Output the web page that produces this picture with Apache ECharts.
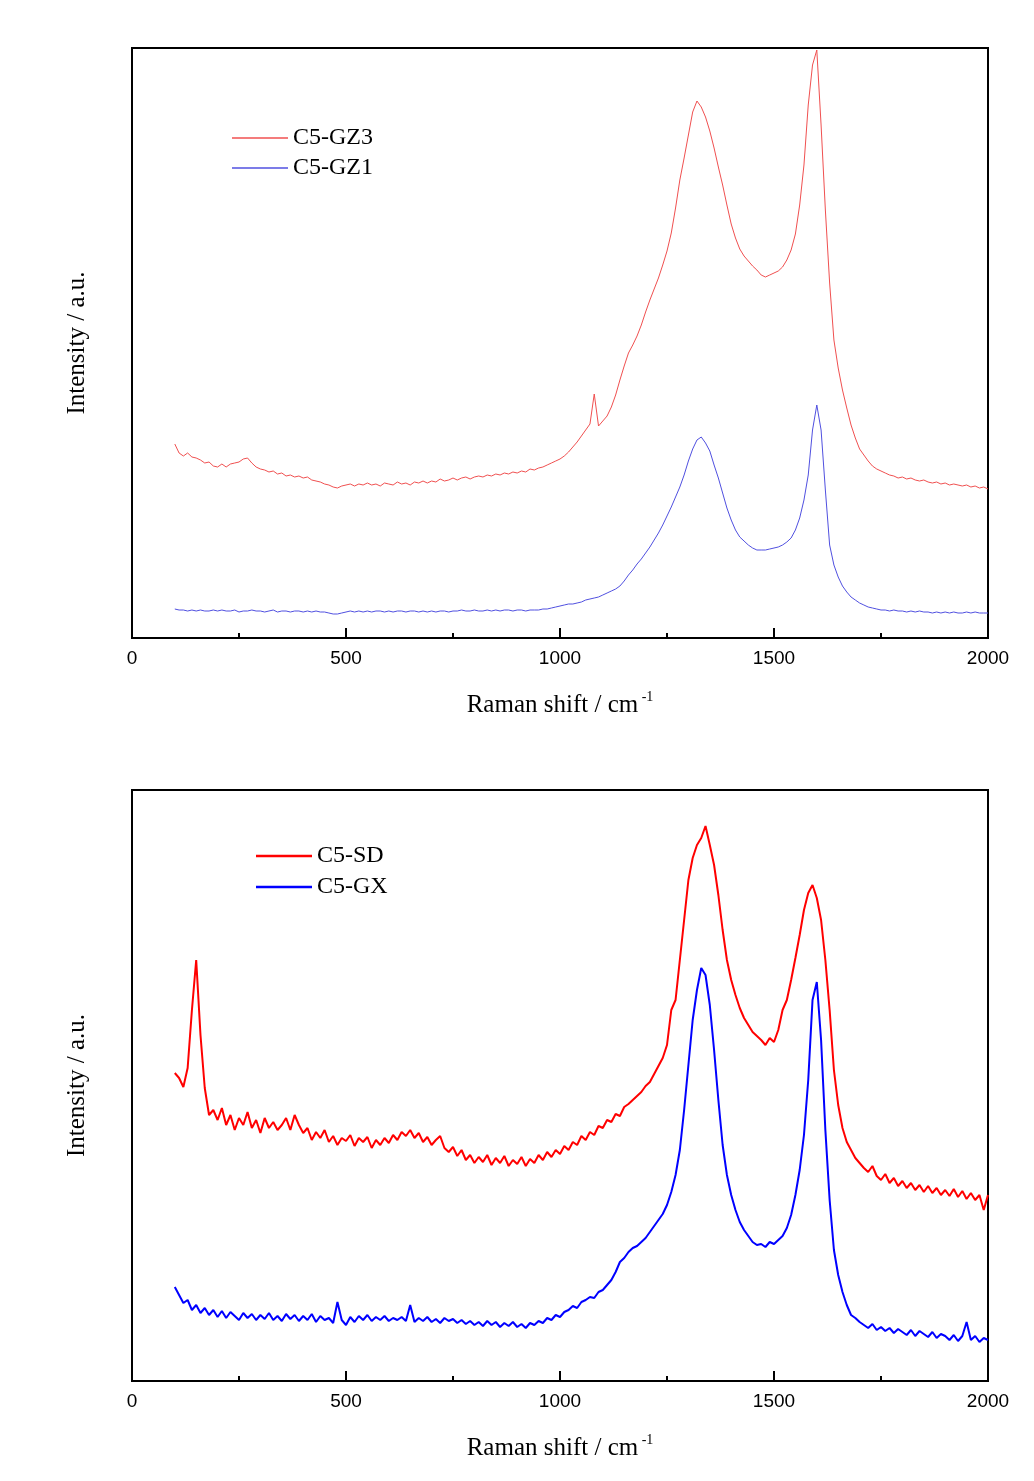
<!DOCTYPE html>
<html>
<head>
<meta charset="utf-8">
<script src="https://cdn.jsdelivr.net/npm/echarts@6/dist/echarts.min.js"></script>
<style>
html,body{margin:0;padding:0;background:#fff;}
#chart{width:1034px;height:1481px;}
</style>
</head>
<body>
<div id="chart"></div>
<script>
// Raman shift sample positions (cm^-1), 100..2000 every 10
const ramanShift = Array.from({length: 191}, (_, i) => 100 + 10 * i);

// Upper panel
const gz3 = [194,185,182,185,181,180,178,175,176,172,171,174,171,174,175,176,179,180,175,171,
169,168,166,167,164,165,162,163,161,162,160,161,158,157,156,154,153,151,150,152,
153,154,152,154,153,155,153,154,152,155,154,153,156,154,155,153,156,155,157,155,
157,156,159,157,158,160,158,160,161,159,161,162,161,163,162,164,163,165,164,166,
165,167,166,169,168,170,171,173,175,177,179,182,186,191,196,202,208,214,244,212,
217,222,231,243,258,272,285,293,302,313,326,338,349,360,373,387,405,430,458,480,
503,526,537,531,521,507,490,471,453,433,414,400,389,382,377,372,368,363,361,363,
365,367,371,378,388,404,433,473,533,573,588,513,428,355,298,270,248,230,213,200,
189,183,177,172,169,167,165,163,162,160,161,159,160,158,157,158,156,155,156,154,
155,153,154,153,152,153,151,152,150,151,149];
const gz1 = [29,28,28,27,28,27,28,27,27,28,27,28,27,27,28,26,27,27,28,27,
27,26,27,28,26,27,27,26,27,27,26,27,26,27,26,26,25,24,24,25,
26,27,26,27,26,27,26,27,27,26,27,26,27,27,26,27,27,26,27,26,
27,26,27,27,26,27,27,28,27,27,28,27,27,28,27,28,27,28,28,27,
28,28,27,28,28,28,29,29,30,31,32,33,34,34,35,36,38,39,40,41,
43,45,47,49,52,57,63,68,74,79,85,91,98,105,113,122,131,141,151,163,
177,189,198,201,195,187,173,160,145,130,118,108,101,97,93,90,88,88,88,89,
90,91,93,96,100,108,120,138,163,208,233,208,148,93,73,61,52,46,41,38,
35,33,31,30,29,28,28,27,28,27,27,26,27,26,27,26,26,25,26,25,
26,25,26,25,25,26,25,26,25,25,25];

// Lower panel
const sd = [308,303,294,313,371,421,346,293,266,271,261,273,256,266,251,263,256,269,253,261,
248,263,253,259,251,256,263,251,266,256,248,253,241,249,243,251,239,245,236,243,
240,246,235,243,239,244,233,241,236,243,238,246,241,249,245,251,243,248,239,244,
236,241,245,233,229,234,225,231,221,226,218,224,219,226,216,223,218,225,215,221,
217,224,215,222,218,226,221,229,224,231,227,235,231,239,236,245,241,249,246,255,
253,261,259,267,265,274,277,281,285,289,295,299,307,315,323,336,371,381,421,461,
501,523,536,543,555,536,516,486,451,421,401,386,373,363,356,349,345,341,336,343,
339,351,371,381,401,423,446,471,488,496,483,461,421,371,311,276,253,239,231,223,
218,213,209,215,205,201,207,198,203,195,200,193,198,191,196,189,195,188,193,186,
191,185,192,184,190,182,188,181,186,171,186];
const gx = [94,86,78,81,71,76,68,73,66,71,64,70,63,69,65,61,68,63,67,61,
66,62,68,61,65,60,67,62,66,60,65,61,67,59,65,61,63,58,79,61,
56,64,59,65,61,66,60,64,61,65,60,63,61,64,60,76,59,63,60,64,
59,62,58,63,60,62,58,61,57,60,56,59,55,60,56,59,54,58,55,59,
54,57,53,58,56,60,58,63,61,66,64,69,71,75,73,79,81,84,83,89,
91,96,101,109,119,123,129,133,135,139,143,149,155,161,167,176,189,206,231,271,
316,361,391,413,406,376,331,281,236,206,186,171,159,151,145,139,136,137,134,139,
137,141,145,153,166,186,211,246,301,381,399,341,251,181,131,106,89,76,66,63,
59,56,53,57,51,54,50,53,48,52,49,46,51,45,50,47,44,49,43,47,
45,41,46,40,45,59,41,45,39,43,41];

const xTicks = {min: 0, max: 2000, interval: 500};

function pairs(ys){ return ramanShift.map((x, i) => [x, ys[i]]); }

const chart = echarts.init(document.getElementById('chart'), null, {renderer: 'canvas'});

const serif = 'Liberation Serif';
const sans = 'Liberation Sans';

function xAxisCfg(gridIndex){
  return {
    gridIndex: gridIndex, type: 'value', min: xTicks.min, max: xTicks.max, interval: xTicks.interval,
    axisLine: {show: true, lineStyle: {color: '#000', width: 2}},
    axisTick: {show: true, inside: true, length: 10, lineStyle: {color: '#000', width: 2}},
    minorTick: {show: true, splitNumber: 2, length: 5, lineStyle: {color: '#000', width: 2}},
    axisLabel: {show: true, color: '#000', fontFamily: sans, fontSize: 19, margin: 11, formatter: v => String(v)},
    splitLine: {show: false},
    name: '{a|Raman shift / cm}{b| -1}',
    nameLocation: 'middle', nameGap: 52,
    nameTextStyle: {
      rich: {
        a: {fontFamily: serif, fontSize: 25, color: '#000'},
        b: {fontFamily: serif, fontSize: 14, color: '#000', verticalAlign: 'top', padding: [0,0,16,0]}
      }
    }
  };
}
function yAxisCfg(gridIndex, max){
  return {
    gridIndex: gridIndex, type: 'value', min: 0, max: max,
    axisLine: {show: false}, axisTick: {show: false}, axisLabel: {show: false}, splitLine: {show: false},
    name: 'Intensity / a.u.', nameLocation: 'middle', nameGap: 42,
    nameTextStyle: {fontFamily: serif, fontSize: 25, color: '#000'}
  };
}

chart.setOption({
  backgroundColor: '#fff',
  animation: false,
  grid: [
    {left: 132, top: 48, width: 856, height: 590, show: true, borderColor: '#000', borderWidth: 2, backgroundColor: 'transparent'},
    {left: 132, top: 790, width: 856, height: 591, show: true, borderColor: '#000', borderWidth: 2, backgroundColor: 'transparent'}
  ],
  xAxis: [xAxisCfg(0), xAxisCfg(1)],
  yAxis: [yAxisCfg(0, 590), yAxisCfg(1, 591)],
  legend: [
    {data: ['C5-GZ3', 'C5-GZ1'], orient: 'vertical', left: 232, top: 126, padding: 0, icon: 'rect', itemWidth: 56, itemHeight: 1.5, itemGap: 6,
     textStyle: {fontFamily: serif, fontSize: 24, color: '#000'}},
    {data: ['C5-SD', 'C5-GX'], orient: 'vertical', left: 256, top: 844, padding: 0, icon: 'rect', itemWidth: 56, itemHeight: 2.5, itemGap: 7,
     textStyle: {fontFamily: serif, fontSize: 24, color: '#000'}}
  ],
  series: [
    {name: 'C5-GZ3', type: 'line', xAxisIndex: 0, yAxisIndex: 0, data: pairs(gz3), symbol: 'none', lineStyle: {color: '#f05050', width: 1}, itemStyle: {color: '#f05050'}},
    {name: 'C5-GZ1', type: 'line', xAxisIndex: 0, yAxisIndex: 0, data: pairs(gz1), symbol: 'none', lineStyle: {color: '#5050e0', width: 1}, itemStyle: {color: '#5050e0'}},
    {name: 'C5-SD', type: 'line', xAxisIndex: 1, yAxisIndex: 1, data: pairs(sd), symbol: 'none', lineStyle: {color: '#ff0000', width: 2}, itemStyle: {color: '#ff0000'}},
    {name: 'C5-GX', type: 'line', xAxisIndex: 1, yAxisIndex: 1, data: pairs(gx), symbol: 'none', lineStyle: {color: '#0000ff', width: 2}, itemStyle: {color: '#0000ff'}}
  ]
});
</script>
</body>
</html>
